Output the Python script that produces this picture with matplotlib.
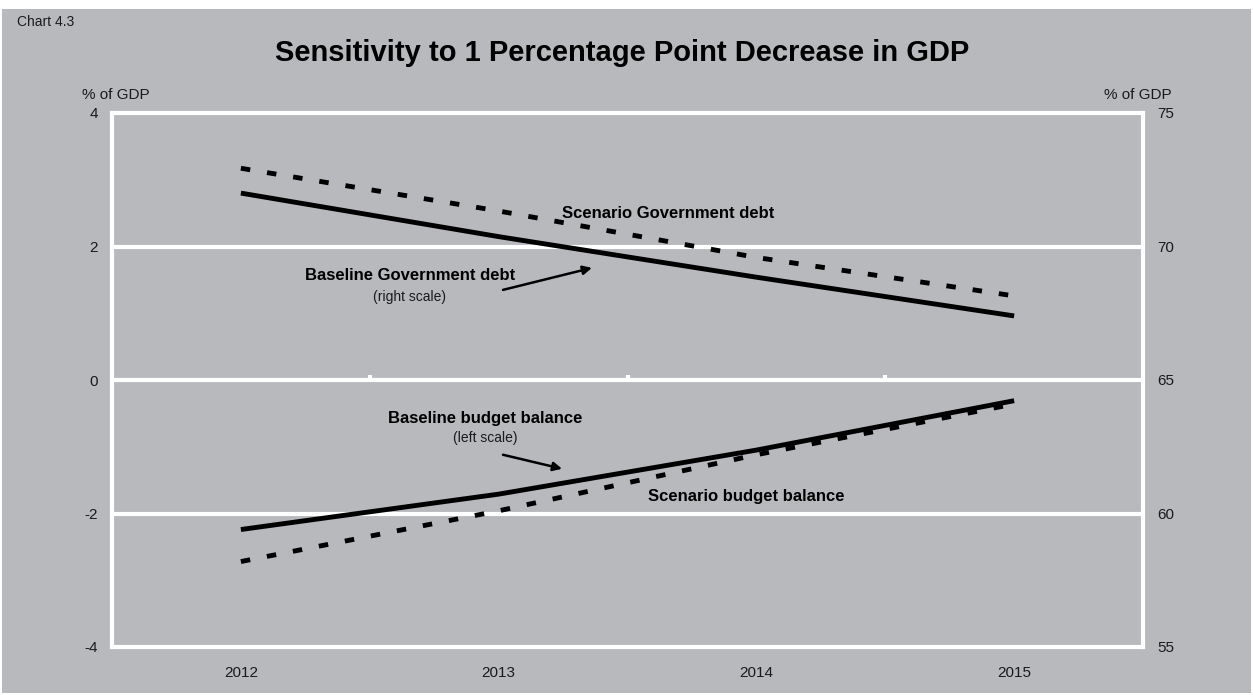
import matplotlib
matplotlib.use("Agg")
import matplotlib.pyplot as plt
from matplotlib.patches import Rectangle

plt.rcParams['font.family'] = ['Liberation Sans', 'DejaVu Sans']

years = ["2012", "2013", "2014", "2015"]
baseline_balance = [-2.24, -1.71, -1.05, -0.31]
scenario_balance = [-2.72, -1.96, -1.12, -0.36]
baseline_debt = [72.0, 70.37, 68.85, 67.4]
scenario_debt = [72.93, 71.33, 69.59, 68.15]
left_ticks = [-4, -2, 0, 2, 4]
right_ticks = [55, 60, 65, 70, 75]

BG = '#b8b9bd'
TXT = '#1a1a1a'

W, H = 1253, 695
fig = plt.figure(figsize=(W / 100, H / 100), dpi=100, facecolor='white')
fig.patches.append(Rectangle((2 / W, 2 / H), (W - 4) / W, (H - 11) / H,
                             transform=fig.transFigure, facecolor=BG,
                             edgecolor='none', zorder=-10))

ax = fig.add_axes([112 / W, 1 - 647 / H, (1143 - 112) / W, (647 - 113) / H])
ax.set_facecolor(BG)
x = list(range(len(years)))
ax.set_xlim(-0.5, len(years) - 0.5)
ax.set_ylim(-4, 4)
ax.set_yticks(left_ticks)
ax.set_yticklabels([str(t) for t in left_ticks])
ax.set_xticks(x)
ax.set_xticklabels(years)
ax.tick_params(axis='both', length=0, labelsize=11, colors=TXT)
ax.tick_params(axis='y', pad=10)
ax.tick_params(axis='x', pad=14)
for s in ax.spines.values():
    s.set_color('white')
    s.set_linewidth(3)
for yv in [-2, 0, 2]:
    ax.axhline(yv, color='white', lw=3, zorder=1)
for xv in [0.5, 1.5, 2.5]:
    ax.plot([xv, xv], [0, 0.07], color='white', lw=3, solid_capstyle='butt', zorder=1)

ax.plot(x, baseline_balance, color='black', lw=3.5, solid_capstyle='butt', zorder=3)
ax.plot(x, scenario_balance, color='black', lw=3.5, dashes=(1.95, 3.5),
        dash_capstyle='butt', zorder=3)

ax2 = ax.twinx()
ax2.set_ylim(55, 75)
ax2.set_yticks(right_ticks)
ax2.set_yticklabels([str(t) for t in right_ticks])
ax2.tick_params(axis='y', length=0, labelsize=11, colors=TXT, pad=10)
for s in ax2.spines.values():
    s.set_visible(False)
ax2.plot(x, baseline_debt, color='black', lw=3.5, solid_capstyle='butt', zorder=3)
ax2.plot(x, scenario_debt, color='black', lw=3.5, dashes=(1.95, 3.5),
         dash_capstyle='butt', zorder=3)

# titles and unit labels
fig.text(17 / W, 1 - 22 / H, "Chart 4.3", fontsize=10, color=TXT, ha='left', va='center')
fig.text(622 / W, 1 - 53 / H, "Sensitivity to 1 Percentage Point Decrease in GDP",
         fontsize=21, fontweight='bold', color='black', ha='center', va='center')
fig.text(116 / W, 1 - 95 / H, "% of GDP", fontsize=11, color=TXT, ha='center', va='center')
fig.text(1138 / W, 1 - 95 / H, "% of GDP", fontsize=11, color=TXT, ha='center', va='center')

# annotations (in left-axis data coordinates)
bold = dict(fontsize=12, fontweight='bold', color='black', va='center')
ax.text(1.246, 2.50, "Scenario Government debt", ha='left', **bold)
ax.text(0.656, 1.56, "Baseline Government debt", ha='center', **bold)
ax.text(0.656, 1.24, "(right scale)", ha='center', va='center', fontsize=10, color=TXT)
ax.annotate("", xy=(1.362, 1.68), xytext=(1.017, 1.35),
            arrowprops=dict(arrowstyle='-|>', color='black', lw=1.8,
                            mutation_scale=13, shrinkA=0, shrinkB=0))
ax.text(0.947, -0.57, "Baseline budget balance", ha='center', **bold)
ax.text(0.947, -0.87, "(left scale)", ha='center', va='center', fontsize=10, color=TXT)
ax.annotate("", xy=(1.246, -1.33), xytext=(1.017, -1.12),
            arrowprops=dict(arrowstyle='-|>', color='black', lw=1.8,
                            mutation_scale=13, shrinkA=0, shrinkB=0))
ax.text(1.58, -1.75, "Scenario budget balance", ha='left', **bold)

fig.savefig("out.png", dpi=100, facecolor=fig.get_facecolor())
